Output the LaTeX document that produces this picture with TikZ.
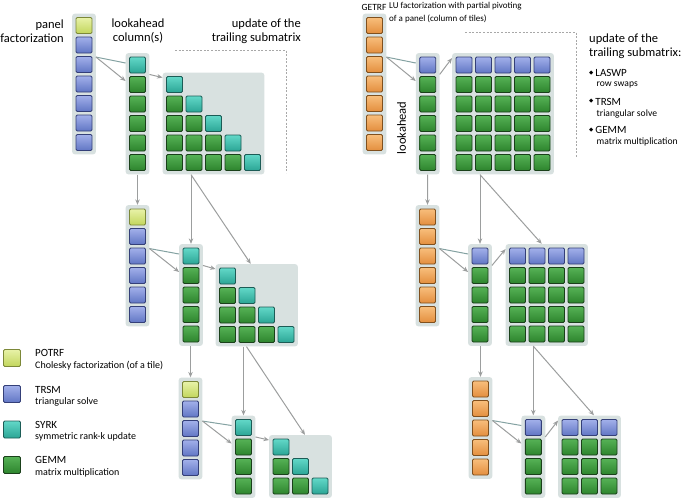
\documentclass[tikz,border=0pt]{standalone}
\usepackage{fontspec}
\setmainfont{Carlito}
\newfontfamily\dvs{DejaVu Sans}
\usetikzlibrary{arrows.meta,calc,fit,backgrounds}
\definecolor{yelL}{HTML}{E8F2A8}\definecolor{yel}{HTML}{C2D65C}\definecolor{yelD}{HTML}{7C8838}
\definecolor{bluL}{HTML}{A2B0EA}\definecolor{blu}{HTML}{6176C4}\definecolor{bluD}{HTML}{343F78}
\definecolor{teaL}{HTML}{62D8C8}\definecolor{tea}{HTML}{2BA595}\definecolor{teaD}{HTML}{1C5C56}
\definecolor{greL}{HTML}{56B256}\definecolor{gre}{HTML}{2D842D}\definecolor{greD}{HTML}{1A401A}
\definecolor{oraL}{HTML}{F8BE7C}\definecolor{ora}{HTML}{E38E3E}\definecolor{oraD}{HTML}{80501E}
\definecolor{boxc}{HTML}{D8E1E0}
\definecolor{arrc}{HTML}{9C9E9E}
\definecolor{plc}{HTML}{84A2A2}
\definecolor{dashc}{HTML}{A8A8A8}
\tikzset{
  tile/.style={minimum size=16pt, inner sep=0pt, rounded corners=1.2pt, line width=0.9pt,
    draw=#1D, top color=#1L, bottom color=#1},
  ltile/.style={tile=#1, minimum size=17pt},
  box/.style={fill=boxc, rounded corners=3pt, inner sep=3.5pt},
  link/.style={draw=arrc, line width=1pt, -{Stealth[length=5.5pt,width=4.5pt]}},
  plink/.style={draw=plc, line width=1pt},
  parr/.style={draw=arrc, line width=1pt, -{Stealth[length=5.5pt,width=4.5pt]}},
  dashline/.style={draw=dashc, line width=0.9pt, dash pattern=on 2pt off 1.6pt},
  lbl/.style={inner sep=0pt, font=\fontsize{12.5}{14}\selectfont},
  sml/.style={inner sep=0pt, anchor=west, font=\fontsize{9.6}{12.5}\selectfont},
  lus/.style={inner sep=0pt, anchor=west, font=\fontsize{9}{12.5}\selectfont},
  leg/.style={inner sep=0pt, anchor=west, font=\fontsize{11}{13}\selectfont},
  legs/.style={inner sep=0pt, anchor=west, font=\fontsize{10}{11}\selectfont},
}
\newcommand\dia{\raisebox{2.2pt}{\dvs\fontsize{5.5}{6}\selectfont ◆}\hspace{2pt}}
% column of tiles: name, x, y of first tile, colour list, count
\newcommand\tcolumn[5]{%
  \foreach \cc [count=\i] in {#4} {\node[tile=\cc] (#1-\i) at (#2,{#3+19.5*(\i-1)}) {};}
  \begin{scope}[on background layer]\node[box, fit=(#1-1)(#1-#5)] (#1) {};\end{scope}
}
% lower triangular matrix: name, x0, y0, n
\newcommand\trimat[4]{%
  \foreach \r in {1,...,#4} {\foreach \k in {1,...,\r} {%
    \ifnum\k=\r\relax\def\cc{tea}\else\def\cc{gre}\fi
    \node[tile=\cc] (#1-\r-\k) at ({#2+19.5*(\k-1)},{#3+19.5*(\r-1)}) {};}}
  \begin{scope}[on background layer]\node[box, fit=(#1-1-1)(#1-#4-#4)] (#1) {};\end{scope}
}
% full matrix: name, x0, y0, cols, rows (first row blue)
\newcommand\fullmat[5]{%
  \foreach \r in {1,...,#5} {\foreach \k in {1,...,#4} {%
    \ifnum\r=1\relax\def\cc{blu}\else\def\cc{gre}\fi
    \node[tile=\cc] (#1-\r-\k) at ({#2+19.5*(\k-1)},{#3+19.5*(\r-1)}) {};}}
  \begin{scope}[on background layer]\node[box, fit=(#1-1-1)(#1-#5-#4)] (#1) {};\end{scope}
}
\begin{document}
\begin{tikzpicture}[x=1pt,y=-1pt]
\useasboundingbox (0,0) rectangle (685,499);
% ---------------- left: Cholesky ----------------
\tcolumn{P1}{84}{25.5}{yel,blu,blu,blu,blu,blu,blu}{7}
\tcolumn{L1}{137.5}{65}{tea,gre,gre,gre,gre,gre}{6}
\trimat{T1}{174.5}{84.5}{5}
\tcolumn{P2}{137.5}{217}{yel,blu,blu,blu,blu,blu}{6}
\tcolumn{L2}{191}{256}{tea,gre,gre,gre,gre}{5}
\trimat{T2}{227.5}{276}{4}
\tcolumn{P3}{190.5}{389.5}{yel,blu,blu,blu,blu}{5}
\tcolumn{L3}{243.5}{427.5}{tea,gre,gre,gre}{4}
\trimat{T3}{281}{447}{3}
% arrows stage 1
\draw[plink] ($(P1-3.north east)+(3.5,1)$) -- ($(L1-1.west)+(-3.5,-2)$);
\draw[parr] ($(P1-3.north east)+(3.5,1)$) -- ($(L1-2.west)+(-3.5,-3.5)$);
\draw[link] ($(L1-1.south east)+(3.5,1)$) -- ($(T1-1-1.north west)+(-3.5,1.5)$);
\draw[link] (L1.south) -- (P2.north);
\draw[link] (L2.north |- T1.south) -- (L2.north);
\draw[link] (L2.north |- T1.south) -- ($(T2.north)+(-6,0)$);
% arrows stage 2
\draw[plink] ($(P2-3.north east)+(3.5,1)$) -- ($(L2-1.west)+(-3.5,-2)$);
\draw[parr] ($(P2-3.north east)+(3.5,1)$) -- ($(L2-2.west)+(-3.5,-3.5)$);
\draw[link] ($(L2-1.south east)+(3.5,1)$) -- ($(T2-1-1.north west)+(-3.5,1.5)$);
\draw[link] (P3.north |- L2.south) -- (P3.north);
\draw[link] (L3.north |- T2.south) -- (L3.north);
\draw[link] ($(L3.north |- T2.south)+(3,0)$) -- ($(T3.north)+(4.5,0)$);
% arrows stage 3
\draw[plink] ($(P3-3.north east)+(3.5,1)$) -- ($(L3-1.west)+(-3.5,-2)$);
\draw[parr] ($(P3-3.north east)+(3.5,1)$) -- ($(L3-2.west)+(-3.5,-3.5)$);
\draw[link] ($(L3-1.south east)+(3.5,1)$) -- ($(T3-1-1.north west)+(-3.5,1.5)$);
% dashed frame
\coordinate (dl1) at (175,50); \coordinate (dl2) at (286,50); \coordinate (dl3) at (286,173);
\draw[dashline] (dl1) -- (dl2) -- (dl3);
% labels
\node[lbl, align=right, anchor=east] (lpanel) at (64,31) {panel\\factorization};
\node[lbl, align=center] (llook) at (138,31) {lookahead\\column(s)};
\node[lbl, align=right, anchor=east] (lupd) at (301,31) {update of the\\trailing submatrix};
% legend
\node[ltile=yel] (k1) at (12,358) {};
\node[ltile=blu] (k2) at (12,394) {};
\node[ltile=tea] (k3) at (12,429.5) {};
\node[ltile=gre] (k4) at (12,465) {};
\node[leg] (k1a) at (35,353) {POTRF};
\node[legs] (k1b) at (35,366) {Cholesky factorization (of a tile)};
\node[leg] (k2a) at (35,389.5) {TRSM};
\node[legs] (k2b) at (35,401.5) {triangular solve};
\node[leg] (k3a) at (35,425) {SYRK};
\node[legs] (k3b) at (35,437) {symmetric rank-k update};
\node[leg] (k4a) at (35,460) {GEMM};
\node[legs] (k4b) at (35,472.5) {matrix multiplication};
% ---------------- right: LU ----------------
\tcolumn{Q1}{374.5}{25.5}{ora,ora,ora,ora,ora,ora,ora}{7}
\tcolumn{M1}{427.7}{65}{blu,gre,gre,gre,gre,gre}{6}
\fullmat{U1}{464}{65}{5}{6}
\tcolumn{Q2}{427.5}{217}{ora,ora,ora,ora,ora,ora}{6}
\tcolumn{M2}{480}{256}{blu,gre,gre,gre,gre}{5}
\fullmat{U2}{517.5}{256}{4}{5}
\tcolumn{Q3}{480.5}{389}{ora,ora,ora,ora,ora}{5}
\tcolumn{M3}{533.3}{427.5}{blu,gre,gre,gre}{4}
\fullmat{U3}{570}{427.5}{3}{4}
% arrows stage 1
\draw[plink] ($(Q1-3.north east)+(3.5,1)$) -- ($(M1-1.west)+(-3.5,-2)$);
\draw[parr] ($(Q1-3.north east)+(3.5,1)$) -- ($(M1-2.west)+(-3.5,-3.5)$);
\draw[link] ($(M1-1.south east)+(3.5,1)$) -- ($(U1-1-1.north west)+(-3.5,1.5)$);
\draw[link] (M1.south) -- (Q2.north);
\draw[link] (M2.north |- U1.south) -- (M2.north);
\draw[link] (M2.north |- U1.south) -- ($(U2.north)+(-5,0)$);
% arrows stage 2
\draw[plink] ($(Q2-3.north east)+(3.5,1)$) -- ($(M2-1.west)+(-3.5,-2)$);
\draw[parr] ($(Q2-3.north east)+(3.5,1)$) -- ($(M2-2.west)+(-3.5,-3.5)$);
\draw[link] ($(M2-1.south east)+(3.5,1)$) -- ($(U2-1-1.north west)+(-3.5,1.5)$);
\draw[link] (Q3.north |- M2.south) -- (Q3.north);
\draw[link] (M3.north |- U2.south) -- (M3.north);
\draw[link] (M3.north |- U2.south) -- ($(U3.north)+(4.5,0)$);
% arrows stage 3
\draw[plink] ($(Q3-3.north east)+(3.5,1)$) -- ($(M3-1.west)+(-3.5,-2)$);
\draw[parr] ($(Q3-3.north east)+(3.5,1)$) -- ($(M3-2.west)+(-3.5,-3.5)$);
\draw[link] ($(M3-1.south east)+(3.5,1)$) -- ($(U3-1-1.north west)+(-3.5,1.5)$);
% dashed frame
\coordinate (dr1) at (465,32.5); \coordinate (dr2) at (576.5,32.5); \coordinate (dr3) at (576.5,157);
\draw[dashline] (dr1) -- (dr2) -- (dr3);
% texts
\node[inner sep=0pt, anchor=west, font=\fontsize{9.5}{11}\selectfont] (getrf) at (361.5,7) {GETRF};
\node[lus, align=left] (lu) at (389,12.5) {LU factorization with partial pivoting\\of a panel (column of tiles)};
\node[lbl, rotate=90] (lookr) at (401.5,128) {lookahead};
\node[lbl, align=left, anchor=west] (rupd) at (589,46) {update of the\\trailing submatrix:};
\node[leg] (b1) at (589,73) {\dia LASWP};
\node[sml] (b1s) at (596.5,85) {row swaps};
\node[leg] (b2) at (589,101.5) {\dia TRSM};
\node[sml] (b2s) at (596.5,114) {triangular solve};
\node[leg] (b3) at (589,130) {\dia GEMM};
\node[sml] (b3s) at (596.5,142) {matrix multiplication};
\end{tikzpicture}
\end{document}
